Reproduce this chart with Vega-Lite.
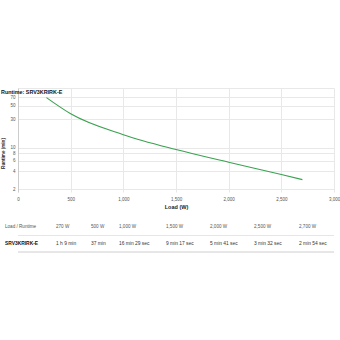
{
  "$schema": "https://vega.github.io/schema/vega-lite/v6.json",
  "background": "white",
  "padding": {"left": 0, "top": 88, "right": 0, "bottom": 0},
  "config": {"font": "Liberation Sans", "view": {"stroke": null}, "concat": {"spacing": 9}},
  "datasets": {
    "curve": [
      {"load": 270, "runtime": 69},
      {"load": 500, "runtime": 37},
      {"load": 1000, "runtime": 16.48},
      {"load": 1500, "runtime": 9.28},
      {"load": 2000, "runtime": 5.68},
      {"load": 2500, "runtime": 3.53},
      {"load": 2700, "runtime": 2.9}
    ],
    "table": [
      {"row": 1, "col": 0, "label": "Load / Runtime", "kind": "head"},
      {"row": 1, "col": 1, "label": "270 W", "kind": "head"},
      {"row": 1, "col": 2, "label": "500 W", "kind": "head"},
      {"row": 1, "col": 3, "label": "1,000 W", "kind": "head"},
      {"row": 1, "col": 4, "label": "1,500 W", "kind": "head"},
      {"row": 1, "col": 5, "label": "2,000 W", "kind": "head"},
      {"row": 1, "col": 6, "label": "2,500 W", "kind": "head"},
      {"row": 1, "col": 7, "label": "2,700 W", "kind": "head"},
      {"row": 2, "col": 0, "label": "SRV3KRIRK-E", "kind": "model"},
      {"row": 2, "col": 1, "label": "1 h 9 min", "kind": "body"},
      {"row": 2, "col": 2, "label": "37 min", "kind": "body"},
      {"row": 2, "col": 3, "label": "16 min 29 sec", "kind": "body"},
      {"row": 2, "col": 4, "label": "9 min 17 sec", "kind": "body"},
      {"row": 2, "col": 5, "label": "5 min 41 sec", "kind": "body"},
      {"row": 2, "col": 6, "label": "3 min 32 sec", "kind": "body"},
      {"row": 2, "col": 7, "label": "2 min 54 sec", "kind": "body"}
    ]
  },
  "vconcat": [
    {
      "width": 316,
      "height": 104,
      "title": {"text": "Runtime: SRV3KRIRK-E", "anchor": "start", "frame": "bounds", "fontSize": 5.4, "fontWeight": "bold", "color": "#111", "offset": -7},
      "data": {"name": "curve"},
      "mark": {"type": "line", "color": "#3aa150", "strokeWidth": 1.1, "interpolate": "monotone"},
      "encoding": {
        "x": {
          "field": "load", "type": "quantitative",
          "scale": {"domain": [0, 3000], "nice": false},
          "axis": {"values": [0, 500, 1000, 1500, 2000, 2500, 3000], "format": ",d", "title": "Load (W)", "titleFontSize": 5.5, "titleFontWeight": "bold", "titleColor": "#222", "labelFontSize": 4.5, "labelColor": "#555", "ticks": false, "domain": false, "gridColor": "#e8e8e8", "labelPadding": 4, "titlePadding": 4, "labelFlush": false}
        },
        "y": {
          "field": "runtime", "type": "quantitative",
          "scale": {"type": "log", "domain": [1.8, 100], "nice": false},
          "axis": {"values": [2, 4, 6, 8, 10, 30, 50, 70, 100], "labelExpr": "datum.value == 100 ? '' : datum.label", "format": "d", "title": "Runtime (min)", "titleFontSize": 4.6, "titleFontWeight": "bold", "titleColor": "#222", "titleY": 65, "labelFontSize": 4.5, "labelColor": "#555", "ticks": false, "domain": true, "domainColor": "#cccccc", "gridColor": "#e8e8e8", "labelPadding": 3, "titlePadding": 4}
        }
      }
    },
    {
      "width": 316,
      "height": 33,
      "data": {"name": "table"},
      "encoding": {
        "y": {"field": "row", "type": "ordinal", "scale": {"type": "band", "domain": [1, 2], "paddingInner": 0, "paddingOuter": 0}, "axis": null}
      },
      "layer": [
        {
          "mark": {"type": "rule", "color": "#e6e6e6", "strokeWidth": 1},
          "encoding": {"y": {"field": "row", "type": "ordinal", "bandPosition": 1, "axis": null}}
        },
        {
          "transform": [{"filter": "datum.kind == 'head'"}],
          "mark": {"type": "text", "align": "left", "baseline": "middle", "fontSize": 4.6, "color": "#555"},
          "encoding": {
            "x": {"field": "col", "type": "quantitative", "scale": {"domain": [0, 1, 2, 3, 4, 5, 6, 7], "range": [-13, 38, 73, 101, 148, 192, 236, 281]}, "axis": null},
            "text": {"field": "label"}
          }
        },
        {
          "transform": [{"filter": "datum.kind == 'body'"}],
          "mark": {"type": "text", "align": "left", "baseline": "middle", "fontSize": 4.9, "color": "#333"},
          "encoding": {
            "x": {"field": "col", "type": "quantitative", "axis": null},
            "text": {"field": "label"}
          }
        },
        {
          "transform": [{"filter": "datum.kind == 'model'"}],
          "mark": {"type": "text", "align": "left", "baseline": "middle", "fontSize": 4.9, "fontWeight": "bold", "color": "#111"},
          "encoding": {
            "x": {"field": "col", "type": "quantitative", "axis": null},
            "text": {"field": "label"}
          }
        }
      ]
    }
  ]
}
